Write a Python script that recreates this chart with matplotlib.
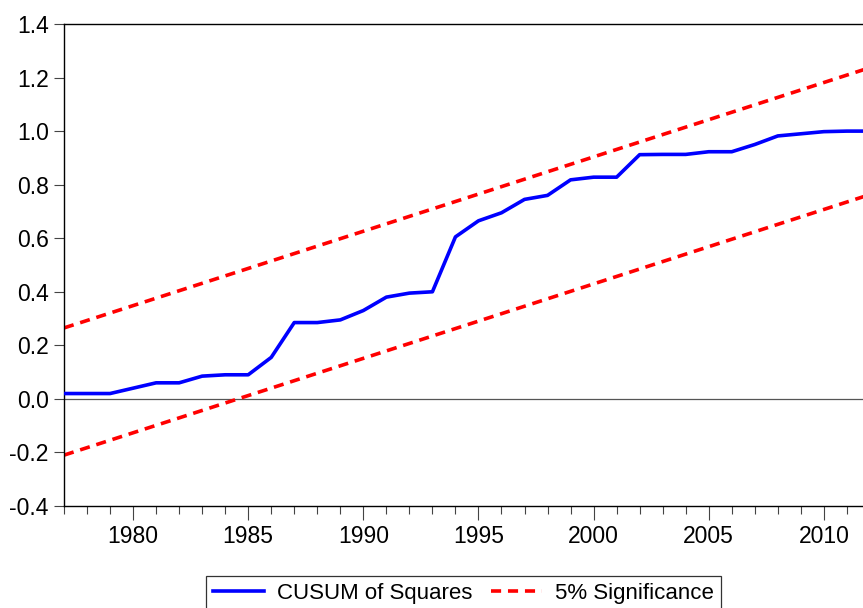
import matplotlib.pyplot as plt
from matplotlib.ticker import MultipleLocator

# CUSUM of squares test (annual)
years = list(range(1977, 2013))
cusum_sq = [0.020, 0.020, 0.020, 0.040, 0.060, 0.060, 0.085, 0.090, 0.090, 0.155,
            0.285, 0.285, 0.295, 0.330, 0.380, 0.395, 0.400, 0.605, 0.665, 0.695,
            0.745, 0.760, 0.818, 0.828, 0.828, 0.912, 0.913, 0.913, 0.923, 0.923,
            0.950, 0.982, 0.990, 0.998, 1.000, 1.000]

# 5% significance bounds (straight lines, endpoints)
bound_years = [1977, 2012]
upper_bound = [0.265, 1.237]
lower_bound = [-0.210, 0.763]

plt.rcParams.update({
    'font.family': ['Liberation Sans', 'DejaVu Sans'],
    'font.size': 16.5,
})

fig = plt.figure(figsize=(8.63, 6.08), dpi=100)
ax = fig.add_axes([64 / 863, 1 - 506 / 608, 1 - 64 / 863, (506 - 24) / 608])

ax.axhline(0, color='#555555', linewidth=0.9, zorder=1)
ax.plot(years, cusum_sq, color='#0000ff', linewidth=2.6, label='CUSUM of Squares', zorder=3)
ax.plot(bound_years, upper_bound, color='#ff0000', linewidth=2.6, linestyle=(0, (2.8, 1.9)),
        label='5% Significance', zorder=2)
ax.plot(bound_years, lower_bound, color='#ff0000', linewidth=2.6, linestyle=(0, (2.8, 1.9)), zorder=2)

ax.set_xlim(1977, 2011.7)
ax.set_ylim(-0.4, 1.4)
ax.yaxis.set_major_locator(MultipleLocator(0.2))
ax.yaxis.set_major_formatter(plt.FuncFormatter(lambda v, p: f'{v:.1f}'))
ax.xaxis.set_major_locator(MultipleLocator(5))
ax.xaxis.set_minor_locator(MultipleLocator(1))

ax.spines['right'].set_visible(False)
for s in ['left', 'top', 'bottom']:
    ax.spines[s].set_linewidth(1.0)
ax.tick_params(axis='y', direction='out', length=7, width=0.8, color='#444444', pad=4)
ax.tick_params(axis='x', which='major', direction='out', length=10, width=0.8, color='#444444', pad=4)
ax.tick_params(axis='x', which='minor', direction='out', length=6, width=0.8, color='#444444')

leg = fig.legend(loc='upper center', bbox_to_anchor=((64 + 863) / 2 / 863, 1 - 576 / 608),
                 borderaxespad=0, ncol=2, frameon=True, fancybox=False, edgecolor='#333333',
                 framealpha=1, fontsize=16, handlelength=2.3, handletextpad=0.6,
                 columnspacing=0.8, borderpad=0.3)
leg.get_frame().set_linewidth(0.9)

fig.savefig('out.png', dpi=100)
